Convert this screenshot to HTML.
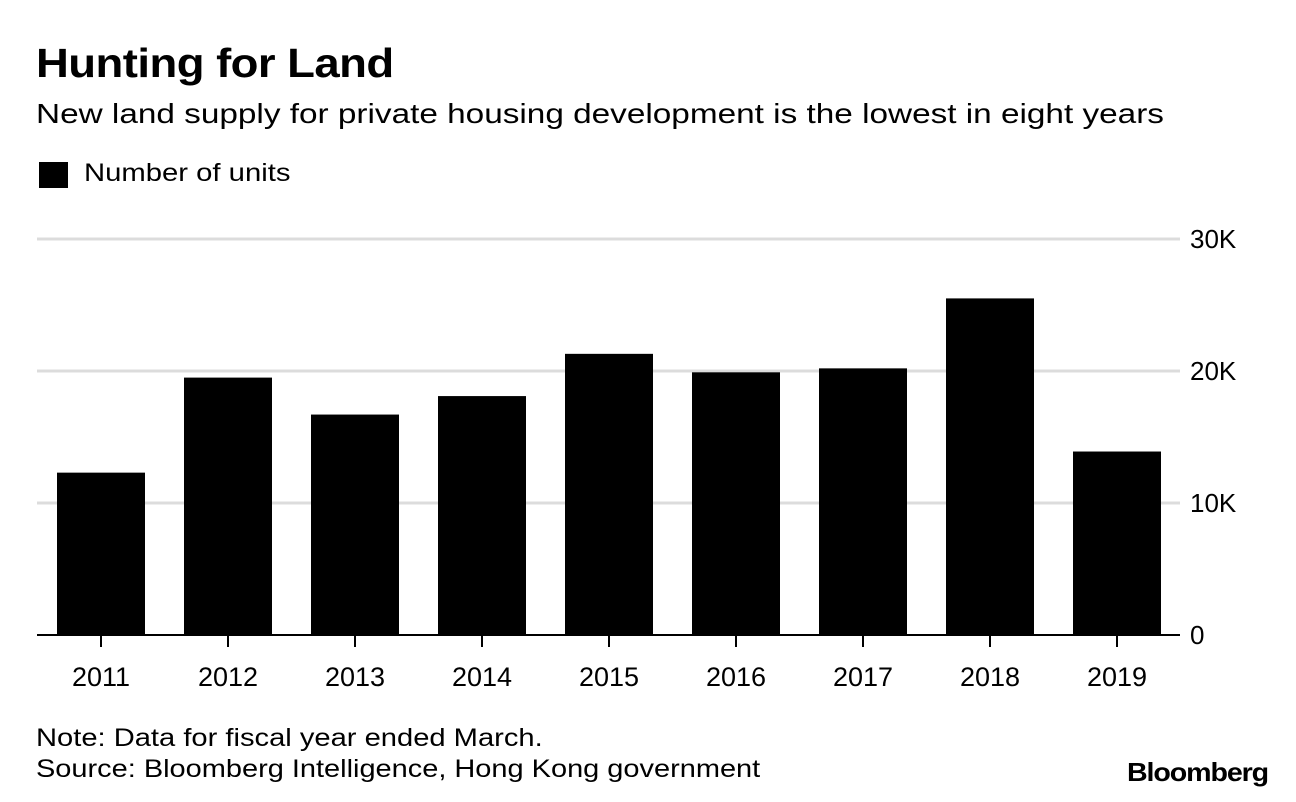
<!DOCTYPE html>
<html><head><meta charset="utf-8"><style>
body{margin:0;background:#fff;font-family:"Liberation Sans",Arial,sans-serif;}
#c{position:relative;width:1296px;height:802px;overflow:hidden;}
.t{position:absolute;white-space:nowrap;color:#000;transform-origin:left top;}
</style></head><body><div id="c">
<div class="t" style="left:36px;top:40px;font-size:41px;font-weight:bold;letter-spacing:-0.5px;transform:scaleX(1.11)">Hunting for Land</div>
<div class="t" style="left:36px;top:98px;font-size:28px;transform:scaleX(1.19)">New land supply for private housing development is the lowest in eight years</div>
<div style="position:absolute;left:39px;top:162px;width:29px;height:26px;background:#000"></div>
<div class="t" style="left:84px;top:159px;font-size:25px;transform:scaleX(1.17)">Number of units</div>
<svg id="s" width="1296" height="802" style="position:absolute;left:0;top:0"></svg>
<div class="t" style="left:36px;top:724px;font-size:25px;transform:scaleX(1.165)">Note: Data for fiscal year ended March.</div>
<div class="t" style="left:36px;top:755px;font-size:25px;transform:scaleX(1.158)">Source: Bloomberg Intelligence, Hong Kong government</div>
<div class="t" style="left:1127px;top:757px;font-size:26px;font-weight:bold;letter-spacing:-1px;transform:scaleX(1.1)">Bloomberg</div>
</div>
<script>
const categories=["2011","2012","2013","2014","2015","2016","2017","2018","2019"];
const values=[12.3,19.5,16.7,18.1,21.3,19.9,20.2,25.5,13.9];
const ticks=[0,10,20,30];
const tickLabels=["0","10K","20K","30K"];
const NS="http://www.w3.org/2000/svg",s=document.getElementById('s');
const y=v=>635-v*13.2, x=i=>101+i*127;
function mk(t,a){const e=document.createElementNS(NS,t);for(const k in a)e.setAttribute(k,a[k]);s.appendChild(e);return e;}
ticks.forEach((t,i)=>{
 if(t>0){const g=mk('line',{x1:37,x2:1180,y1:y(t),y2:y(t),stroke:'#dcdcdc','stroke-width':3});
 
 }
 const l=mk('text',{x:1190,y:y(t)+9,'font-size':26,'font-family':'Liberation Sans'});l.textContent=tickLabels[i];
 
 
});
values.forEach((v,i)=>{
 const b=mk('rect',{x:x(i)-44,y:y(v),width:88,height:635-y(v),fill:'#000'});
 
 
 const tk=mk('line',{x1:x(i),x2:x(i),y1:635,y2:647,stroke:'#000','stroke-width':2});
 
 
 const l=mk('text',{x:x(i),y:686,'font-size':27,'text-anchor':'middle','font-family':'Liberation Sans'});l.textContent=categories[i];
 
 
});
const ax=mk('line',{x1:37,x2:1180,y1:635,y2:635,stroke:'#000','stroke-width':2});


</script></body></html>
